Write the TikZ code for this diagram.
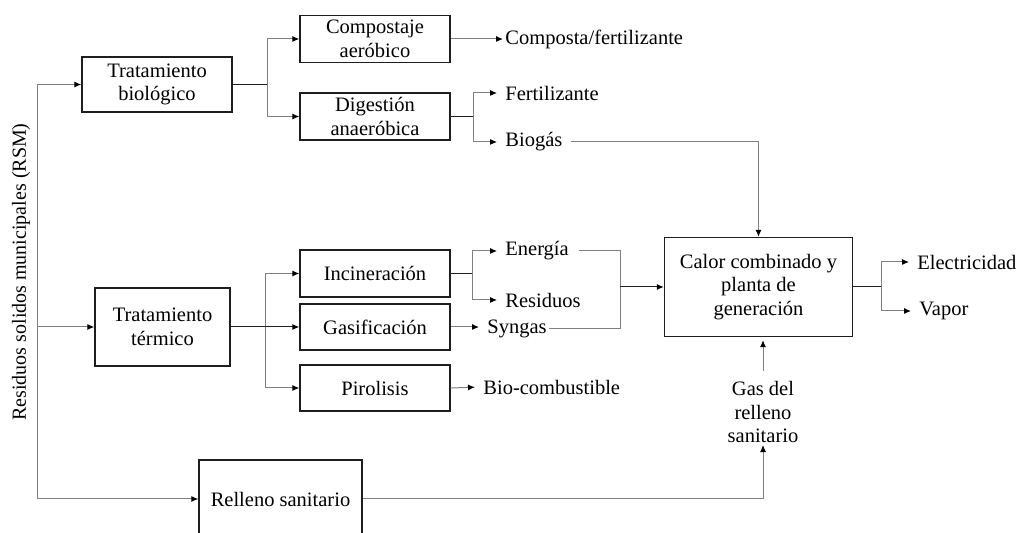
\documentclass[tikz,border=0pt]{standalone}
\usepackage{fontspec}
\setmainfont{Liberation Serif}
\usepackage{tikz}
\usetikzlibrary{arrows.meta, positioning, calc}
\definecolor{mydark}{RGB}{30,30,30}
\definecolor{mygray}{RGB}{128,128,128}
\newcommand{\flowfont}{\fontsize{10.25}{11.7}\selectfont}
\tikzset{
  box/.style={rectangle, draw=mydark, line width=0.7pt,
    align=center, inner sep=1pt, font=\flowfont},
  lbl/.style={inner sep=1pt, anchor=west, font=\flowfont},
  link/.style={line width=0.5pt, color=mydark},
  glink/.style={line width=0.5pt, color=mygray},
  arrow/.style={glink, -{Latex[length=3.5pt, width=3pt, color=black]}},
  tolabel/.style={arrow, shorten >=3pt}
}

\begin{document}
\begin{tikzpicture}[x=0.5pt, y=-0.5pt]
  \useasboundingbox (0,0) rectangle (1018,533);
  \clip (0,0) rectangle (1018,533);

  % Process boxes
  \node[box, minimum width=75pt, minimum height=27.5pt] (bio) at (157,84.5) {Tratamiento\\biológico};
  \node[box, minimum width=75pt, minimum height=23.5pt] (comp) at (375,39) {Compostaje\\aeróbico};
  \node[box, minimum width=75pt, minimum height=23.5pt] (dig) at (375,116.5) {Digestión\\anaeróbica};
  \node[box, minimum width=67.5pt, minimum height=39pt] (term) at (162.5,327) {Tratamiento\\térmico};
  \node[box, minimum width=75pt, minimum height=23.5pt] (inc) at (375,273.5) {Incineración};
  \node[box, minimum width=75pt, minimum height=23pt] (gas) at (375,327) {Gasificación};
  \node[box, minimum width=75pt, minimum height=23pt] (pir) at (375,388) {Pirolisis};
  \node[box, minimum width=81.5pt, minimum height=39pt] (rel) at (280.5,499) {Relleno sanitario};
  \node[box, minimum width=94pt, minimum height=49.5pt] (chp) at (758.5,287) {Calor combinado y\\planta de\\generación};

  % Products
  \node[lbl] (compo) at (503,39) {Composta/fertilizante};
  \node[lbl] (fert) at (503,93) {Fertilizante};
  \node[lbl] (biog) at (503,142) {Biogás};
  \node[lbl] (ener) at (503,251) {Energía};
  \node[lbl] (resid) at (503,300) {Residuos};
  \node[lbl] (syn) at (485,329) {Syngas};
  \node[lbl] (bioc) at (481,387) {Bio-combustible};
  \node[lbl] (elec) at (915,262) {Electricidad};
  \node[lbl] (vap) at (917,311) {Vapor};
  \node[align=center, inner sep=1pt, font=\flowfont] (gdr) at (763,412) {Gas del\\relleno\\sanitario};
  \node[rotate=90, inner sep=1pt, font=\fontsize{10}{12}\selectfont] (rsm) at (21,272) {Residuos solidos municipales (RSM)};

  % Trunk
  \coordinate (ttop) at (37,84.5);
  \coordinate (tbot) at (37,499);
  \draw[glink] (ttop) -- (tbot);
  \draw[arrow] (ttop) -- (bio.west);
  \draw[arrow] (ttop |- term.west) -- (term.west);
  \draw[arrow] (tbot) -- (rel.west);

  % Biological route
  \coordinate (bj) at (267,84.5);
  \draw[link] (bio.east) -- (bj);
  \draw[arrow] (bj) |- (comp.west);
  \draw[arrow] (bj) |- (dig.west);
  \draw[arrow] (comp.east) -- (compo.west);
  \coordinate (dj) at (473,116.5);
  \draw[link] (dig.east) -- (dj);
  \draw[tolabel] (dj) |- (fert.west);
  \draw[tolabel] (dj) |- (biog.west);
  \draw[arrow, shorten <=3pt] (biog.east) -| (chp.north);

  % Thermal route
  \coordinate (tj) at (265,327);
  \draw[link] (term.east) -- (tj);
  \draw[arrow] (tj) |- (inc.west);
  \draw[arrow, mydark] (tj) -- (gas.west);
  \draw[arrow] (tj) |- (pir.west);
  \coordinate (ij) at (472,273.5);
  \draw[link] (inc.east) -- (ij);
  \draw[tolabel] (ij) |- (ener.west);
  \draw[tolabel] (ij) |- (resid.west);
  \draw[tolabel] (gas.east) -- (gas.east -| syn.west);
  \draw[tolabel] (pir.east) -- (bioc.west);

  % Into the plant
  \coordinate (ej) at (620,287);
  \draw[glink, shorten <=4pt] (ener.east) -| (ej);
  \draw[glink] (syn.east) -| (ej);
  \draw[arrow, mydark] (ej) -- (chp.west);

  % Outputs
  \coordinate (cj) at (881,287);
  \draw[link] (chp.east) -- (cj);
  \draw[tolabel] (cj) |- (elec.west);
  \draw[tolabel] (cj) |- (vap.west);

  % Landfill gas
  \draw[arrow, shorten <=4pt, shorten >=1.5pt] (gdr.north) -- (chp.south -| gdr.north);
  \draw[arrow] (rel.east) -| (gdr.south);
\end{tikzpicture}
\end{document}
